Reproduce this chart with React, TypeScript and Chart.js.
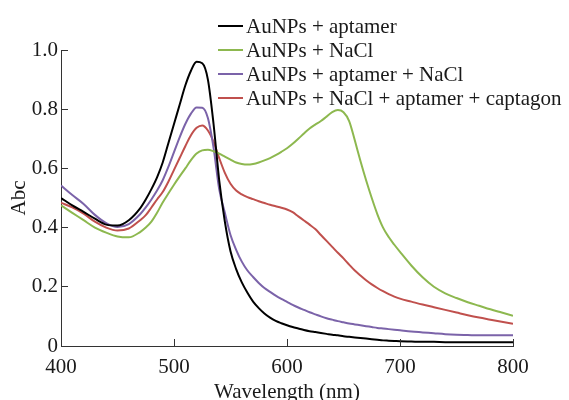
import React, { useEffect, useRef } from "react";
import { Chart, registerables } from "chart.js";

Chart.register(...registerables);

const wavelengths = [
  400, 410, 420, 430, 440, 450, 460, 470,
  475, 480, 485, 490, 495, 500, 505, 510, 515, 520,
  525, 530, 535, 540, 545, 550, 555, 560, 565, 570,
  575, 580, 585, 590, 595, 600, 605, 610, 615, 620,
  625, 630, 635, 640, 645, 650, 655, 660, 665, 670,
  675, 680, 685, 690, 695, 700,
  710, 720, 730, 740, 750, 760, 770, 780, 790, 800,
];

const aptamerValues = [
  0.5, 0.475, 0.453, 0.43, 0.41, 0.407, 0.425, 0.465,
  0.495, 0.53, 0.57, 0.62, 0.685, 0.75, 0.815, 0.88, 0.93, 0.96,
  0.955, 0.9, 0.75, 0.56, 0.42, 0.32, 0.26, 0.215, 0.18, 0.15,
  0.128, 0.11, 0.096, 0.085, 0.077, 0.07, 0.064, 0.059, 0.054, 0.05,
  0.047, 0.044, 0.041, 0.038, 0.036, 0.033, 0.031, 0.029, 0.027, 0.025,
  0.023, 0.021, 0.019, 0.018, 0.017, 0.016,
  0.015, 0.014, 0.014, 0.013, 0.013, 0.013, 0.013, 0.013, 0.013, 0.013,
];

const naclValues = [
  0.475, 0.45, 0.425, 0.4, 0.383, 0.37, 0.367, 0.385,
  0.4, 0.42, 0.45, 0.485, 0.515, 0.545, 0.573, 0.6, 0.628, 0.65,
  0.661, 0.663, 0.658, 0.65, 0.64, 0.63, 0.62, 0.615, 0.613, 0.615,
  0.62, 0.627, 0.635, 0.645, 0.656, 0.668, 0.683, 0.7, 0.718, 0.735,
  0.748, 0.76, 0.775, 0.79, 0.797, 0.79, 0.76, 0.695, 0.625, 0.56,
  0.5, 0.445, 0.4, 0.368, 0.342, 0.318,
  0.272, 0.232, 0.2, 0.178, 0.162, 0.148, 0.136, 0.124, 0.113, 0.102,
];

const aptamerNaclValues = [
  0.542, 0.51, 0.48, 0.443, 0.415, 0.402, 0.412, 0.445,
  0.468, 0.495, 0.525, 0.56, 0.605, 0.655, 0.705, 0.75, 0.785, 0.806,
  0.805, 0.77, 0.67, 0.53, 0.45, 0.375, 0.325, 0.285, 0.255, 0.233,
  0.213, 0.196, 0.183, 0.17, 0.159, 0.149, 0.139, 0.13, 0.122, 0.114,
  0.107, 0.1, 0.094, 0.089, 0.084, 0.08, 0.076, 0.073, 0.07, 0.067,
  0.064, 0.061, 0.059, 0.057, 0.055, 0.053,
  0.049, 0.046, 0.043, 0.04, 0.038, 0.037, 0.036, 0.036, 0.036, 0.036,
];

const captagonValues = [
  0.484, 0.468, 0.447, 0.42, 0.4, 0.39, 0.397, 0.425,
  0.442, 0.468, 0.495, 0.52, 0.555, 0.595, 0.635, 0.675, 0.712, 0.737,
  0.745, 0.728, 0.69, 0.635, 0.585, 0.548, 0.525, 0.512, 0.503, 0.496,
  0.489, 0.483, 0.477, 0.472, 0.467, 0.461, 0.452, 0.438, 0.424, 0.41,
  0.395, 0.375, 0.355, 0.335, 0.315, 0.296, 0.275, 0.255, 0.238, 0.222,
  0.208, 0.196, 0.185, 0.175, 0.167, 0.16,
  0.15, 0.14, 0.131, 0.122, 0.113, 0.104, 0.096, 0.089, 0.082, 0.075,
];

const seriesLabels = [
  "AuNPs + aptamer",
  "AuNPs + NaCl",
  "AuNPs + aptamer + NaCl",
  "AuNPs + NaCl + aptamer + captagon",
];
const seriesValues = [aptamerValues, naclValues, aptamerNaclValues, captagonValues];
const seriesColors = ["#000000", "#8db84f", "#7b63a9", "#c0504d"];

const xTicks = [400, 500, 600, 700, 800];
const yTicks = [0, 0.2, 0.4, 0.6, 0.8, 1.0];

const FONT = "Liberation Serif, Times New Roman, serif";
const TEXT = "#1a1a1a";
const AXIS = "#333333";

Chart.defaults.font.family = FONT;
Chart.defaults.font.size = 21;
Chart.defaults.color = TEXT;

const inwardTicks = {
  id: "inwardTicks",
  afterDraw(chart: any) {
    const { ctx, chartArea, scales } = chart;
    const x = scales.x;
    const y = scales.y;
    ctx.save();
    ctx.strokeStyle = AXIS;
    ctx.lineWidth = 1;
    ctx.beginPath();
    for (const v of xTicks) {
      const px = Math.round(x.getPixelForValue(v) - 0.5) + 0.5;
      ctx.moveTo(px, chartArea.bottom);
      ctx.lineTo(px, chartArea.bottom - 7);
    }
    for (const v of yTicks) {
      const py = Math.round(y.getPixelForValue(v) - 0.5) + 0.5;
      ctx.moveTo(chartArea.left, py);
      ctx.lineTo(chartArea.left + 7, py);
    }
    ctx.stroke();
    ctx.restore();
  },
};

const insideLegend = {
  id: "insideLegend",
  afterDraw(chart: any) {
    const { ctx } = chart;
    const startX = 218;
    const lineLen = 25;
    const textX = 246;
    const firstY = 26;
    const rowGap = 24;
    ctx.save();
    ctx.font = `21px ${FONT}`;
    ctx.textBaseline = "middle";
    ctx.textAlign = "left";
    chart.data.datasets.forEach((ds: any, i: number) => {
      const yy = firstY + i * rowGap;
      ctx.strokeStyle = ds.borderColor;
      ctx.lineWidth = 2;
      ctx.beginPath();
      ctx.moveTo(startX, yy);
      ctx.lineTo(startX + lineLen, yy);
      ctx.stroke();
      ctx.fillStyle = TEXT;
      ctx.fillText(ds.label, textX, yy + 1);
    });
    ctx.restore();
  },
};

export default function App() {
  const canvasRef = useRef<HTMLCanvasElement | null>(null);

  useEffect(() => {
    document.body.style.margin = "0";
    const canvas = canvasRef.current;
    if (!canvas) return;
    const tickFont = { family: FONT, size: 21 };
    const chart = new Chart(canvas, {
      type: "line",
      data: {
        datasets: seriesLabels.map((label, i) => ({
          label,
          data: wavelengths.map((w, j) => ({ x: w, y: seriesValues[i][j] })),
          borderColor: seriesColors[i],
          backgroundColor: seriesColors[i],
          borderWidth: 2,
          pointRadius: 0,
          cubicInterpolationMode: "monotone" as const,
          fill: false,
        })),
      },
      options: {
        responsive: false,
        animation: false,
        devicePixelRatio: 1,
        font: tickFont,
        layout: { padding: { top: 50, right: 56, left: 0, bottom: 0 } },
        plugins: {
          legend: { display: false },
          tooltip: { enabled: false },
        },
        scales: {
          x: {
            type: "linear",
            min: 400,
            max: 800,
            afterFit: (s: any) => {
              s.height = 54;
            },
            ticks: {
              stepSize: 100,
              font: tickFont,
              color: TEXT,
              padding: 9,
              maxRotation: 0,
            },
            grid: { display: false, drawTicks: false },
            border: { display: true, color: AXIS, width: 1 },
            title: {
              display: true,
              text: "Wavelength (nm)",
              font: { family: FONT, size: 21, lineHeight: 0.7 },
              color: TEXT,
              padding: { top: 0, bottom: 0 },
            },
          },
          y: {
            type: "linear",
            min: 0,
            max: 1,
            afterFit: (s: any) => {
              s.width = 61;
            },
            ticks: {
              stepSize: 0.2,
              font: tickFont,
              color: TEXT,
              padding: 3,
              callback: (v: any) => (Number(v) === 0 ? "0" : Number(v).toFixed(1)),
            },
            grid: { display: false, drawTicks: false },
            border: { display: true, color: AXIS, width: 1 },
            title: {
              display: true,
              text: "Abc",
              font: { family: FONT, size: 21, lineHeight: 1 },
              color: TEXT,
              padding: { top: 9, bottom: 0 },
            },
          },
        },
      },
      plugins: [inwardTicks, insideLegend],
    });
    return () => chart.destroy();
  }, []);

  return (
    <div style={{ position: "absolute", left: 0, top: 0, width: 569, height: 400 }}>
      <canvas ref={canvasRef} width={569} height={400} style={{ display: "block" }} />
    </div>
  );
}
